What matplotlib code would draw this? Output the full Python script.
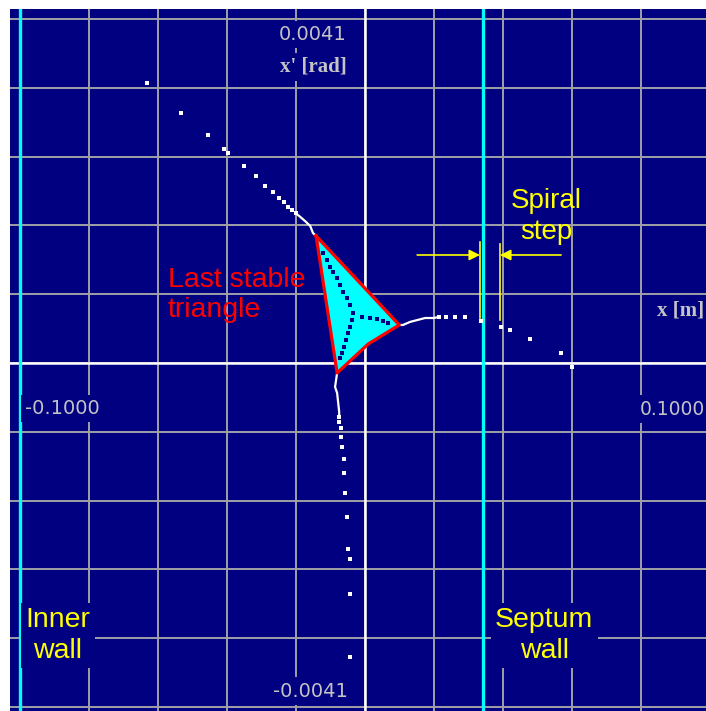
import numpy as np
import matplotlib
matplotlib.use('Agg')
import matplotlib.pyplot as plt

NAVY = '#000080'
GRID = '#a0a0a8'
LABEL = '#c4c4c4'

# phase space window: x [m], x' [rad]
x_lim = 0.1
xp_lim = 0.0041
inner_wall = -0.1
septum_wall = 0.0342

# separatrix arms outside the stable region (turn-by-turn points)
arm_ul_x = [-0.0633, -0.0534, -0.0454, -0.0409, -0.0396, -0.0352, -0.0316,
            -0.0289, -0.0267, -0.0248, -0.0236, -0.0222, -0.0212, -0.0201]
arm_ul_xp = [0.003341, 0.002976, 0.002721, 0.002554, 0.002503, 0.002352, 0.002225,
             0.002113, 0.002042, 0.001970, 0.001915, 0.001863, 0.001824, 0.001784]
arm_r_x = [0.0215, 0.0235, 0.0261, 0.0290, 0.0336, 0.0394, 0.0420, 0.0478, 0.0568, 0.0600]
arm_r_xp = [0.000548, 0.000548, 0.000548, 0.000548, 0.000501, 0.000429, 0.000393,
            0.000286, 0.000119, -0.000048]
arm_b_x = [-0.0075, -0.0075, -0.0070, -0.0070, -0.0067, -0.0061, -0.0061, -0.0058,
           -0.0052, -0.0049, -0.0043, -0.0043, -0.0043]
arm_b_xp = [-0.000644, -0.000703, -0.000775, -0.000882, -0.001001, -0.001144, -0.001311,
            -0.001549, -0.001835, -0.002217, -0.002336, -0.002753, -0.003504]

# dense part of the arms close to the triangle corners
near_ul_x = [-0.0201, -0.0191, -0.0174, -0.0159, -0.0151, -0.0142]
near_ul_xp = [0.001784, 0.001752, 0.001692, 0.001633, 0.001549, 0.001514]
near_r_x = [0.0099, 0.0110, 0.0130, 0.0174, 0.0197, 0.0215]
near_r_xp = [0.000453, 0.000453, 0.000489, 0.000536, 0.000536, 0.000548]
near_b_x = [-0.0081, -0.0087, -0.0081, -0.0075, -0.0075]
near_b_xp = [-0.000119, -0.000286, -0.000358, -0.000584, -0.000644]

# last stable triangle (corners plus the bent lower side)
tri_x = [-0.0142, 0.0099, 0.0009, -0.0081, -0.0142]
tri_xp = [0.001514, 0.000453, 0.000226, -0.000119, 0.001514]

# inner stable orbit points
orb_x = [-0.0122, -0.0110, -0.0101, -0.0093, -0.0081, -0.0072, -0.0064, -0.0052, -0.0043, -0.0035,
         -0.0038, -0.0043, -0.0049, -0.0055, -0.0061, -0.0067, -0.0072,
         -0.0009, 0.0015, 0.0035, 0.0052, 0.0067]
orb_xp = [0.001311, 0.001228, 0.001144, 0.001085, 0.001013, 0.000930, 0.000846, 0.000775, 0.000691, 0.000596,
          0.000513, 0.000429, 0.000358, 0.000274, 0.000191, 0.000119, 0.000060,
          0.000548, 0.000536, 0.000524, 0.000501, 0.000477]

# spiral step: last turn before and first turn after the septum
step_before = 0.0333
step_after = 0.0391

fig = plt.figure(figsize=(7.06, 7.11), dpi=100)
fig.patch.set_facecolor('white')
ax = fig.add_axes([10 / 706, 0, 696 / 706, 702 / 711])
ax.set_facecolor(NAVY)
ax.set_xlim(-0.1029, 0.0988)
ax.set_ylim(-0.004148, 0.004219)
for s in ax.spines.values():
    s.set_visible(False)
ax.set_xticks([])
ax.set_yticks([])

for gx in np.linspace(-x_lim, x_lim, 11):
    ax.axvline(gx, color=GRID, lw=1.4, zorder=0.5)
for gy in np.linspace(-xp_lim, xp_lim, 11):
    ax.axhline(gy, color=GRID, lw=1.4, zorder=0.5)
ax.axvline(0, color='white', lw=1.8, zorder=0.6)
ax.axhline(0, color='white', lw=1.8, zorder=0.6)

ax.axvline(inner_wall, color='#00ffff', lw=2.4, zorder=1)
ax.axvline(septum_wall, color='#00ffff', lw=2.4, zorder=1)

# triangle
ax.fill(tri_x, tri_xp, color='#00ffff', zorder=2)
ax.plot(orb_x, orb_xp, 's', color=NAVY, ms=2.6, mew=0, zorder=2.2)
ax.plot(tri_x, tri_xp, color='red', lw=2.3, solid_joinstyle='round', zorder=2.5)

# separatrix arms
for xs, ys in [(near_ul_x, near_ul_xp), (near_r_x, near_r_xp), (near_b_x, near_b_xp)]:
    ax.plot(xs, ys, color='white', lw=1.6, zorder=2.3)
for xs, ys in [(arm_ul_x, arm_ul_xp), (arm_r_x, arm_r_xp), (arm_b_x, arm_b_xp)]:
    ax.plot(xs, ys, 's', color='white', ms=2.4, mew=0, zorder=2.3)

# spiral step marker
ax.plot([step_before, step_before], [0.000536, 0.001442], color='yellow', lw=1.2, zorder=3)
ax.plot([step_after, step_after], [0.000512, 0.001418], color='yellow', lw=1.2, zorder=3)
arr = dict(arrowstyle='-|>', color='yellow', lw=1.2, mutation_scale=16, shrinkA=0, shrinkB=0)
ax.annotate('', xy=(step_before, 0.001287), xytext=(0.0151, 0.001287), arrowprops=arr, zorder=3)
ax.annotate('', xy=(step_after, 0.001287), xytext=(0.0568, 0.001287), arrowprops=arr, zorder=3)

box = dict(facecolor=NAVY, edgecolor='none', pad=3)
sans = 'Liberation Sans'
ax.text(0.0525, 0.00175, 'Spiral\nstep', color='yellow', fontsize=20, family=sans,
        ha='center', va='center', linespacing=1.25, zorder=3)
ax.text(-0.0571, 0.00081, 'Last stable\ntriangle', color='red', fontsize=20.5, family=sans,
        ha='left', va='center', linespacing=1.2, zorder=3)
ax.text(-0.0890, -0.00325, 'Inner\nwall', color='yellow', fontsize=20.5, family=sans,
        ha='center', va='center', linespacing=1.25, bbox=box, zorder=3)
ax.text(0.0519, -0.00325, 'Septum\nwall', color='yellow', fontsize=20.5, family=sans,
        ha='center', va='center', linespacing=1.25, bbox=box, zorder=3)

# axis labels and range values
ax.text(-0.0151, 0.00392, '0.0041', color=LABEL, fontsize=14, ha='center', va='center', bbox=box, zorder=3)
ax.text(-0.0159, -0.00391, '-0.0041', color=LABEL, fontsize=14, ha='center', va='center', bbox=box, zorder=3)
ax.text(-0.0878, -0.00054, '-0.1000', color=LABEL, fontsize=14, ha='center', va='center', bbox=box, zorder=3)
ax.text(0.0984, -0.00055, '0.1000', color=LABEL, fontsize=13.5, ha='right', va='center', bbox=box, zorder=3)
ax.text(-0.0151, 0.00353, "x' [rad]", color=LABEL, fontsize=15, family='Liberation Serif',
        weight='bold', ha='center', va='center', bbox=box, zorder=3)
ax.text(0.0984, 0.00062, 'x [m]', color=LABEL, fontsize=15, family='Liberation Serif',
        weight='bold', ha='right', va='center', bbox=box, zorder=3)

plt.savefig('out.png', dpi=100, facecolor=fig.get_facecolor())
